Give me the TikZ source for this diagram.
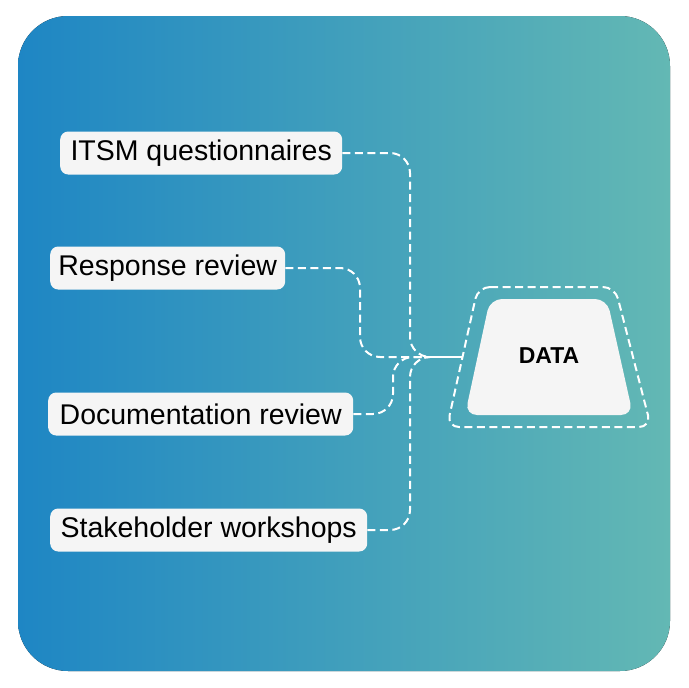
\documentclass[tikz,border=0pt]{standalone}
\usepackage{fontspec}
\setmainfont{Liberation Sans}
\definecolor{BgBlue}{RGB}{30, 134, 196}
\definecolor{BgTeal}{RGB}{99, 184, 180}
\definecolor{PaleGrey}{RGB}{245, 245, 245}

\begin{document}
\begin{tikzpicture}[x=1pt, y=-1pt,
  srcbox/.style={fill=PaleGrey, rounded corners=8pt, anchor=west, minimum height=43pt,
    inner sep=0pt, font=\fontsize{28.5}{32}\selectfont},
  link/.style={white, line width=2pt, dash pattern=on 8pt off 4.5pt, rounded corners=20pt}]
\useasboundingbox (0,0) rectangle (688,688);
\fill[left color=BgBlue, right color=BgTeal, rounded corners=50pt] (18,16) rectangle (670,671);

\node[srcbox, minimum width=282pt] (itsm) at (60,153) {ITSM questionnaires};
\node[srcbox, minimum width=235pt] (resp) at (50,268) {Response review};
\node[srcbox, minimum width=305pt] (docrev) at (48,414) {Documentation review};
\node[srcbox, minimum width=317pt] (stake) at (50,530) {Stakeholder workshops};

\draw[white, line width=2pt, dash pattern=on 8pt off 4.5pt, rounded corners=12pt]
  (478,287) -- (615,287) -- (651,427) -- (447,427) -- cycle;
\fill[PaleGrey, rounded corners=12pt] (490,299) -- (607,299) -- (633,415) -- (465,415) -- cycle;
\node[font=\fontsize{23}{26}\selectfont\bfseries] (data) at (549,356) {DATA};
\coordinate (frame) at (462.5,357);

\coordinate (join) at (428,357);
\draw[link] (itsm.east) -- (410,153) -- (410,357) -- (join);
\draw[link] (resp.east) -- (360,268) -- (360,357) -- (join);
\draw[link] (docrev.east) -- (393,414) -- (393,357) -- (join);
\draw[link] (stake.east) -- (410,530) -- (410,357) -- (join);
\draw[white, line width=2pt] (join) -- (frame);
\end{tikzpicture}
\end{document}
